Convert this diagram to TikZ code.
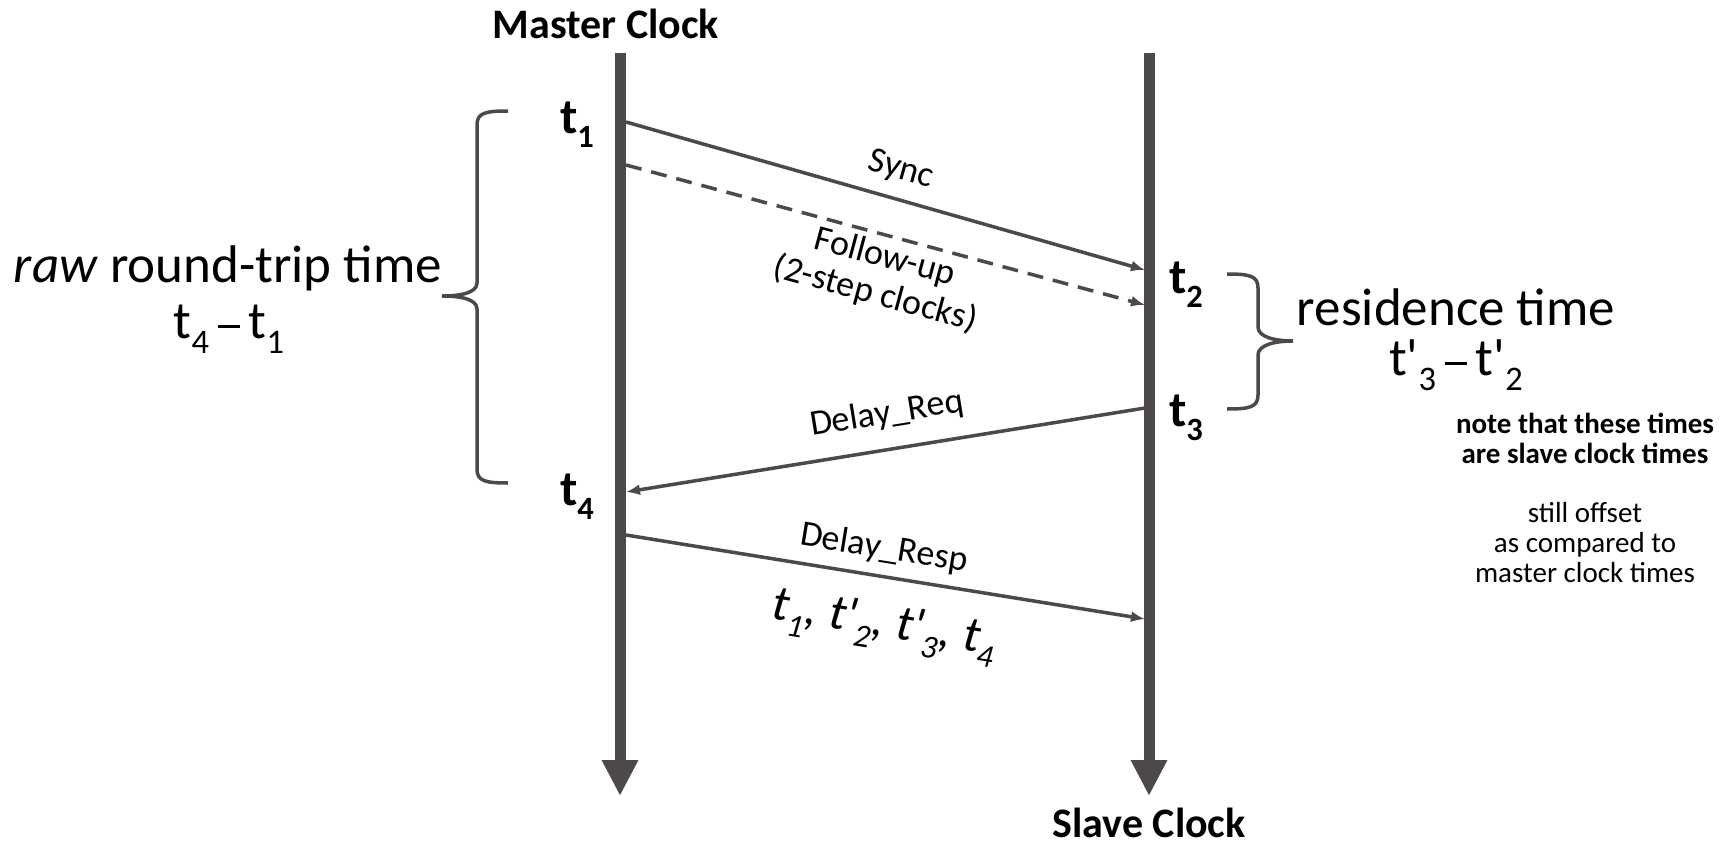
\documentclass[tikz,border=0pt]{standalone}
\usepackage{fontspec}
\setmainfont{Carlito}
\usetikzlibrary{arrows.meta}
\definecolor{ln}{HTML}{4D4949}
\newcommand\sbs[1]{\raisebox{-0.28em}{\scalebox{0.65}{#1}}}
\newcommand\pr{\textquotesingle}
\newcommand\dsh{\,\rule[0.2em]{0.42em}{0.055em}\,}
\begin{document}
\begin{tikzpicture}[x=1pt,y=-1pt,
  timeline/.style={draw=ln,line width=11pt,-{Triangle[length=36pt,width=34pt]}},
  msg/.style={draw=ln,line width=3.5pt,-{Latex[length=14pt,width=11pt]}},
  brace/.style={draw=ln,line width=3.5pt},
  tlab/.style={font=\fontsize{50}{52}\selectfont\bfseries,inner sep=0pt},
  mlab/.style={font=\fontsize{36}{40}\selectfont,inner sep=0pt},
  big/.style={font=\fontsize{53}{58}\selectfont,inner sep=0pt,align=center},
  head/.style={font=\fontsize{42}{46}\selectfont\bfseries,inner sep=0pt},
  note/.style={font=\fontsize{29}{30}\selectfont,inner sep=0pt,align=center}]
\path[use as bounding box,fill=white] (0,0) rectangle (1733,843);
% timelines
\coordinate (mtop) at (620,53);
\coordinate (mbot) at (620,796);
\coordinate (stop) at (1149,53);
\coordinate (sbot) at (1149,796);
\draw[timeline] (mtop) -- (mbot);
\draw[timeline] (stop) -- (sbot);
\node[head] (master) at (606,24) {Master Clock};
\node[head] (slave) at (1149,823) {Slave Clock};
% time labels
\node[tlab] (t1) at (577,125) {t\sbs{1}};
\node[tlab] (t2) at (1186,285) {t\sbs{2}};
\node[tlab] (t3) at (1186,418) {t\sbs{3}};
\node[tlab] (t4) at (577,497) {t\sbs{4}};
% message endpoints
\coordinate (sync0) at (626,122);
\coordinate (sync1) at (1145,270);
\coordinate (fu0) at (626,165);
\coordinate (fu1) at (1145,305);
\coordinate (req0) at (1145,408);
\coordinate (req1) at (626,492);
\coordinate (resp0) at (626,535);
\coordinate (resp1) at (1145,619);
\draw[msg] (sync0) -- (sync1);
\draw[msg,dashed,dash pattern=on 16pt off 10pt] (fu0) -- (fu1);
\draw[msg] (req0) -- (req1);
\draw[msg] (resp0) -- (resp1);
\node[mlab,rotate=-15.9] (synclab) at (901,170) {Sync};
\node[mlab,rotate=-15.1,align=center,font=\fontsize{36}{38}\selectfont] (fulab) at (880,276) {Follow-up\\(2-step clocks)};
\node[mlab,rotate=9.2] (reqlab) at (887,414) {Delay\_Req};
\node[mlab,rotate=-9.2] (resplab) at (884,549) {Delay\_Resp};
\node[mlab,rotate=-9.2,font=\fontsize{50}{54}\selectfont\itshape] (tlist) at (884,627) {t\sbs{1}, t\pr\sbs{2}, t\pr\sbs{3}, t\sbs{4}};
% left brace
\draw[brace] (508,111) .. controls (485,111) and (477,113) .. (477,125) -- (477,283)
  .. controls (477,293) and (460,296) .. (442,296)
  .. controls (460,296) and (477,299) .. (477,309) -- (477,469)
  .. controls (477,481) and (485,483) .. (508,483);
\node[big] (rtt) at (228,268) {\textit{raw} round-trip time};
\node[big] (rttf) at (229,329) {t\sbs{4}\dsh t\sbs{1}};
% right brace
\draw[brace] (1227,274) .. controls (1250,274) and (1258,276) .. (1258,288) -- (1258,327)
  .. controls (1258,337) and (1275,341) .. (1293,341)
  .. controls (1275,341) and (1258,345) .. (1258,355) -- (1258,395)
  .. controls (1258,407) and (1250,409) .. (1227,409);
\node[big] (res) at (1456,307) {residence time};
\node[big] (resf) at (1456,365) {t\pr\sbs{3}\dsh t\pr\sbs{2}};
\node[note,font=\fontsize{29}{30}\selectfont\bfseries] (n1) at (1585,438) {note that these times\\are slave clock times};
\node[note] (n2) at (1585,543) {still offset\\as compared to\\master clock times};
\end{tikzpicture}
\end{document}
